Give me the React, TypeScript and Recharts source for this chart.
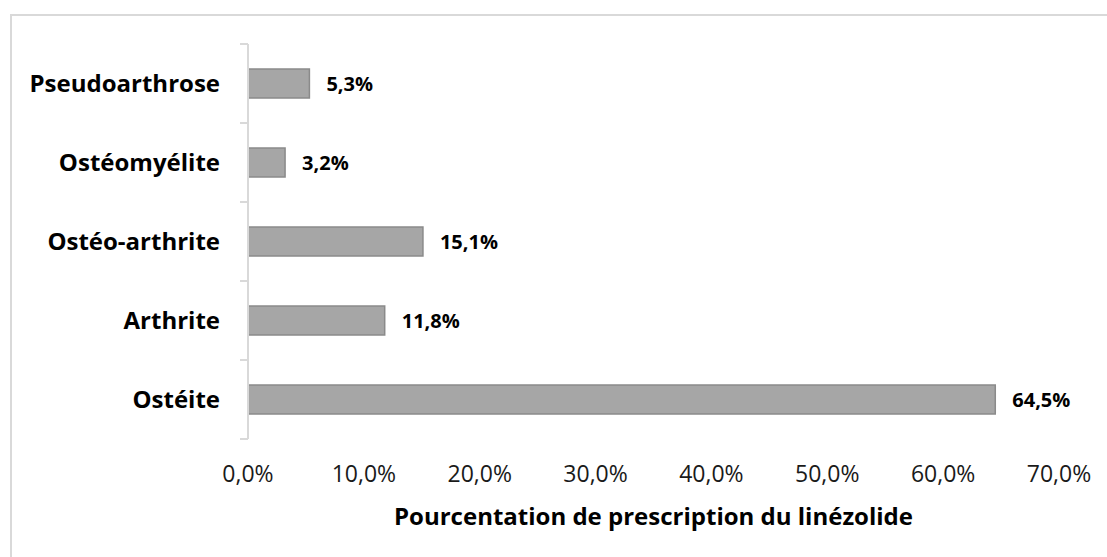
import { BarChart, Bar, XAxis, YAxis, LabelList } from 'recharts'

const categories = ['Pseudoarthrose', 'Ostéomyélite', 'Ostéo-arthrite', 'Arthrite', 'Ostéite']
const percents = [5.3, 3.2, 15.1, 11.8, 64.5]
const xTicks = [0, 10, 20, 30, 40, 50, 60, 70]

const data = categories.map((name, i) => ({ name, value: percents[i] }))

const fmt = (v: number) => v.toFixed(1).replace('.', ',') + '%'
const font = '"Open Sans", sans-serif'
const labelGap = 28

// category label plus Excel-style tick marks between categories
function CatTick(props: any) {
  const { x, y, payload, height, visibleTicksCount, index } = props
  const band = height / visibleTicksCount
  const ax = x + labelGap
  return (
    <g>
      <line x1={ax - 8} x2={ax} y1={y - band / 2} y2={y - band / 2} stroke="#d9d9d9" strokeWidth={2} />
      {index === visibleTicksCount - 1 && (
        <line x1={ax - 8} x2={ax} y1={y + band / 2} y2={y + band / 2} stroke="#d9d9d9" strokeWidth={2} />
      )}
      <text x={x} y={y} dy="0.35em" textAnchor="end" fill="#000" fontSize={24} fontWeight={700} fontFamily={font}>
        {payload.value}
      </text>
    </g>
  )
}

export default function App() {
  return (
    <div style={{ position: 'absolute', left: 0, top: 0, width: 1107, height: 557, background: '#fff', overflow: 'hidden' }}>
      <div
        style={{
          position: 'absolute',
          left: 10,
          top: 14,
          width: 1110,
          height: 560,
          borderTop: '2px solid #d9d9d9',
          borderLeft: '2px solid #d9d9d9',
        }}
      />
      <div style={{ position: 'absolute', left: 11, top: 15 }}>
        <BarChart
          width={1095}
          height={532}
          data={data}
          layout="vertical"
          margin={{ top: 29, right: 47, bottom: 0, left: 0 }}
          style={{ fontFamily: font }}
        >
          <YAxis
            type="category"
            dataKey="name"
            width={237}
            axisLine={{ stroke: '#d9d9d9', strokeWidth: 2 }}
            tickLine={false}
            tickSize={0}
            tickMargin={labelGap}
            tick={<CatTick />}
          />
          <XAxis
            type="number"
            domain={[0, 70]}
            ticks={xTicks}
            tickFormatter={fmt}
            axisLine={false}
            tickLine={false}
            tickSize={0}
            tickMargin={27}
            height={108}
            tick={{ fill: '#1a1a1a', fontSize: 23, fontFamily: font }}
            label={{
              value: 'Pourcentation de prescription du linézolide',
              position: 'insideBottom',
              offset: 22,
              style: { fill: '#000', fontSize: 24, fontWeight: 700, fontFamily: font },
            }}
          />
          <Bar
            dataKey="value"
            barSize={29}
            fill="#a6a6a6"
            stroke="#8a8a8a"
            strokeWidth={1.5}
            isAnimationActive={false}
          >
            <LabelList
              dataKey="value"
              position="right"
              offset={17}
              formatter={(v: any) => fmt(Number(v))}
              style={{ fill: '#000', fontSize: 20, fontWeight: 700, fontFamily: font }}
            />
          </Bar>
        </BarChart>
      </div>
    </div>
  )
}
